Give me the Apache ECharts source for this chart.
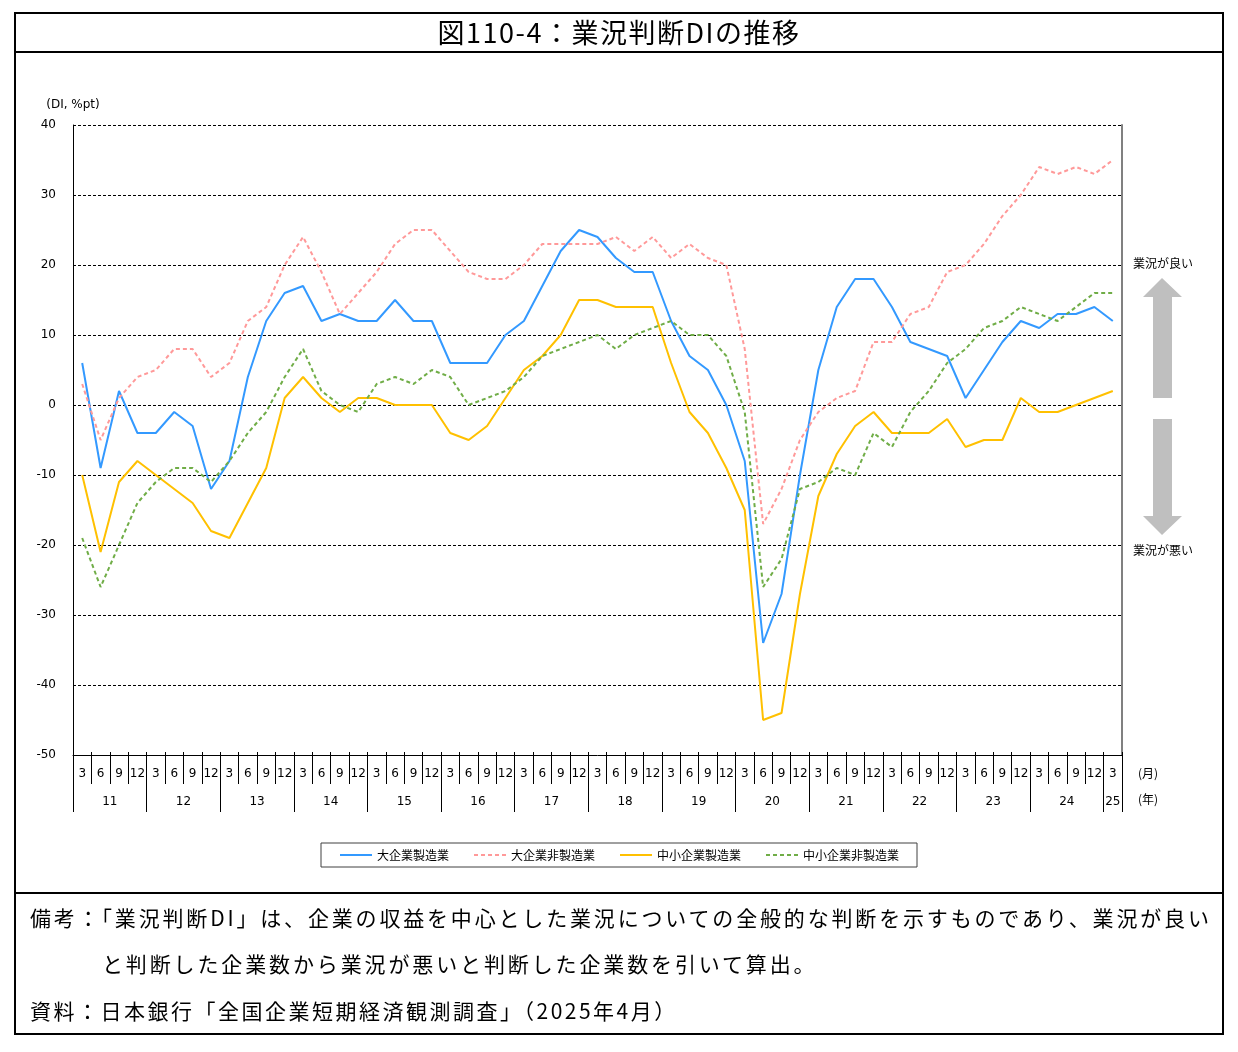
<!DOCTYPE html>
<html>
<head>
<meta charset="utf-8">
<script src="https://cdn.jsdelivr.net/npm/echarts/dist/echarts.min.js"></script>
<style>
  body { margin: 0; background: #fff; }
  #wrap { position: relative; width: 1238px; height: 1052px; }
  #charts { position: absolute; left: 0; top: 0; width: 1238px; height: 1052px; }
  .frame { position: absolute; left: 14px; top: 12px; width: 1210px; height: 1023px;
           border: 2px solid #000; box-sizing: border-box; pointer-events: none; }
  .rule { position: absolute; left: 14px; width: 1210px; height: 2px; background: #000; }
  .txt { position: absolute; font-family: "Noto Sans CJK JP", sans-serif; color: #000; white-space: nowrap; }
  .title { left: 14px; width: 1210px; top: 12px; height: 40px; line-height: 40px;
           text-align: center; font-size: 27px; letter-spacing: 1.5px; }
  .note { font-size: 21px; line-height: 30px; }
</style>
</head>
<body>
<div id="wrap">
  <div id="charts"></div>
  <div class="frame"></div>
  <div class="rule" style="top:51px"></div>
  <div class="rule" style="top:892px"></div>
  <div class="txt title">図110-4：業況判断DIの推移</div>
  <div class="txt note" style="left:30px; top:902px; letter-spacing:2.83px">備考：「業況判断DI」は、企業の収益を中心とした業況についての全般的な判断を示すものであり、業況が良い</div>
  <div class="txt note" style="left:102px; top:948px; letter-spacing:2.87px">と判断した企業数から業況が悪いと判断した企業数を引いて算出。</div>
  <div class="txt note" style="left:30px; top:995px; letter-spacing:2.5px">資料：日本銀行「全国企業短期経済観測調査」（2025年4月）</div>
</div>
<script>
// 年（下段）と月（上段）のラベル
var years = ['11', '12', '13', '14', '15', '16', '17', '18', '19', '20', '21', '22', '23', '24', '25'];
var months = ['3', '6', '9', '12'];
var yTicks = { min: -50, max: 40, step: 10 };

// 業況判断DI（2011年3月〜2025年3月）
var largeMfg = [6, -9, 2, -4, -4, -1, -3, -12, -8, 4, 12, 16, 17, 12, 13, 12, 12, 15, 12, 12,
  6, 6, 6, 10, 12, 17, 22, 25, 24, 21, 19, 19, 12, 7, 5, 0, -8, -34, -27, -10,
  5, 14, 18, 18, 14, 9, 8, 7, 1, 5, 9, 12, 11, 13, 13, 14, 12];
var largeNonMfg = [3, -5, 1, 4, 5, 8, 8, 4, 6, 12, 14, 20, 24, 19, 13, 16, 19, 23, 25, 25,
  22, 19, 18, 18, 20, 23, 23, 23, 23, 24, 22, 24, 21, 23, 21, 20, 8, -17, -12, -5,
  -1, 1, 2, 9, 9, 13, 14, 19, 20, 23, 27, 30, 34, 33, 34, 33, 35];
var smallMfg = [-10, -21, -11, -8, -10, -12, -14, -18, -19, -14, -9, 1, 4, 1, -1, 1, 1, 0, 0, 0,
  -4, -5, -3, 1, 5, 7, 10, 15, 15, 14, 14, 14, 6, -1, -4, -9, -15, -45, -44, -27,
  -13, -7, -3, -1, -4, -4, -4, -2, -6, -5, -5, 1, -1, -1, 0, 1, 2];
var smallNonMfg = [-19, -26, -20, -14, -11, -9, -9, -11, -8, -4, -1, 4, 8, 2, 0, -1, 3, 4, 3, 5,
  4, 0, 1, 2, 4, 7, 8, 9, 10, 8, 10, 11, 12, 10, 10, 7, -1, -26, -22, -12,
  -11, -9, -10, -4, -6, -1, 2, 6, 8, 11, 12, 14, 13, 12, 14, 16, 16];

// 四半期のカテゴリ（最後の年は3月のみ）
var categories = [];
years.forEach(function (y, i) {
  var ms = i === years.length - 1 ? months.slice(0, 1) : months;
  ms.forEach(function (m) { categories.push(m); });
});
var nQ = categories.length;

// 年の行：四半期を半分に割った点の軸（境界に目盛、中央に年ラベル）
var yearAxisData = [];
for (var i = 0; i <= nQ * 2; i++) yearAxisData.push('');
var yearBounds = {};
var q0 = 0;
years.forEach(function (y, i) {
  var nq = i === years.length - 1 ? 1 : 4;
  yearBounds[q0 * 2] = true;
  yearAxisData[q0 * 2 + nq] = y;
  q0 += nq;
});
yearBounds[q0 * 2] = true;

var numFont = 'DejaVu Sans';
var jpFont = 'Noto Sans CJK JP';

var myChart = echarts.init(document.getElementById('charts'));
myChart.setOption({
  animation: false,
  color: ['#3399ff', '#ff9999', '#ffc000', '#70ad47'],
  grid: { left: 73, top: 125, width: 1049, height: 630 },
  legend: {
    left: 321, top: 843,
    padding: [6, 18],
    borderColor: '#404040', borderWidth: 1,
    itemWidth: 32, itemHeight: 14, itemGap: 24,
    itemStyle: { opacity: 0 },
    textStyle: { fontFamily: jpFont, fontSize: 12, color: '#000' }
  },
  xAxis: [
    {
      type: 'category', data: categories, boundaryGap: true,
      axisLine: { onZero: false, lineStyle: { color: '#000', width: 1 } },
      axisTick: { show: true, interval: 0, length: 29, lineStyle: { color: '#000', width: 1 } },
      axisLabel: { interval: 0, margin: 13, fontSize: 12, fontFamily: numFont, color: '#000' },
      splitLine: { show: false }
    },
    {
      type: 'category', data: yearAxisData, boundaryGap: false, position: 'bottom',
      axisLine: { show: false, onZero: false },
      axisTick: { show: true, length: 57, lineStyle: { color: '#000', width: 1 },
        interval: function (idx) { return !!yearBounds[idx]; } },
      axisLabel: { interval: 0, margin: 41, fontSize: 12, fontFamily: numFont, color: '#000' },
      splitLine: { show: false }
    },
    {
      type: 'category', data: categories, boundaryGap: true, position: 'bottom',
      axisLine: { show: false, onZero: false },
      axisTick: { show: true, interval: 0, inside: true, length: 3, lineStyle: { color: '#000', width: 1 } },
      axisLabel: { show: false },
      splitLine: { show: false }
    }
  ],
  yAxis: [
    {
      type: 'value', min: yTicks.min, max: yTicks.max, interval: yTicks.step,
      name: '(DI, %pt)', nameGap: 14,
      nameTextStyle: { fontFamily: numFont, fontSize: 12, color: '#000', align: 'center' },
      axisLine: { show: true, lineStyle: { color: '#000', width: 1 } },
      axisTick: { show: false },
      axisLabel: { margin: 17, fontSize: 12, fontFamily: numFont, color: '#000' },
      splitLine: { lineStyle: { color: '#000', width: 1, type: [3, 2] } }
    },
    {
      type: 'value', min: yTicks.min, max: yTicks.max, interval: yTicks.step, position: 'right',
      axisLine: { show: true, lineStyle: { color: '#808080', width: 2 } },
      axisTick: { show: false }, axisLabel: { show: false }, splitLine: { show: false }
    }
  ],
  series: [
    { name: '大企業製造業', type: 'line', data: largeMfg, symbol: 'none',
      lineStyle: { width: 2, color: '#3399ff' } },
    { name: '大企業非製造業', type: 'line', data: largeNonMfg, symbol: 'none',
      lineStyle: { width: 2, color: '#ff9999', type: [4, 3] } },
    { name: '中小企業製造業', type: 'line', data: smallMfg, symbol: 'none',
      lineStyle: { width: 2, color: '#ffc000' } },
    { name: '中小企業非製造業', type: 'line', data: smallNonMfg, symbol: 'none',
      lineStyle: { width: 2, color: '#70ad47', type: [4, 3] } }
  ],
  graphic: [
    { type: 'polygon', shape: { points: [[1162, 278], [1182, 297], [1172, 297], [1172, 398], [1153, 398], [1153, 297], [1143, 297]] },
      style: { fill: '#bfbfbf' } },
    { type: 'polygon', shape: { points: [[1153, 419], [1172, 419], [1172, 516], [1182, 516], [1162, 535], [1143, 516], [1153, 516]] },
      style: { fill: '#bfbfbf' } },
    { type: 'text', x: 1133, y: 263, style: { text: '業況が良い', font: '12px "Noto Sans CJK JP"', fill: '#000', verticalAlign: 'middle' } },
    { type: 'text', x: 1133, y: 550, style: { text: '業況が悪い', font: '12px "Noto Sans CJK JP"', fill: '#000', verticalAlign: 'middle' } },
    { type: 'text', x: 1138, y: 773, style: { text: '(月)', font: '12px "Noto Sans CJK JP"', fill: '#000', verticalAlign: 'middle' } },
    { type: 'text', x: 1138, y: 799, style: { text: '(年)', font: '12px "Noto Sans CJK JP"', fill: '#000', verticalAlign: 'middle' } }
  ]
});
</script>
</body>
</html>
